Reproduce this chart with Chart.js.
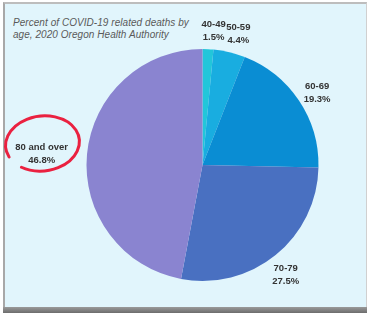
<!DOCTYPE html>
<html>
<head>
<meta charset="utf-8">
<script src="https://cdn.jsdelivr.net/npm/chart.js@4.4.0/dist/chart.umd.min.js"></script>
<style>
  html, body { margin:0; padding:0; background:#ffffff; }
  #wrap { position:relative; width:367px; height:313px; overflow:hidden; }
  #frame { position:absolute; left:3px; top:2px; width:361px; height:304px;
           background:#e1f5fc; border-left:2px solid #a8a8a8; border-top:2px solid #bdbdbd; border-right:1px solid #d0d0d0; }
  #shadow { position:absolute; left:3px; top:307px; width:364px; height:6px;
            background:linear-gradient(#9a9a9a,#6d6d6d); }
  #title { position:absolute; left:13px; top:17px; font:italic 10px "Liberation Sans", Arial, sans-serif;
           color:#5a5a5a; line-height:12px; letter-spacing:0.05px; }
  canvas { position:absolute; left:0; top:0; }
</style>
</head>
<body>
<div id="wrap">
  <div id="frame"></div>
  <div id="shadow"></div>
  <div id="title">Percent of COVID-19 related deaths by<br>age, 2020 Oregon Health Authority</div>
  <canvas id="c" width="367" height="313"></canvas>
</div>
<script>
const categories = ["40-49", "50-59", "60-69", "70-79", "80 and over"];
const percentValues = [1.5, 4.4, 19.3, 27.5, 46.8];
const valueLabels = ["1.5%", "4.4%", "19.3%", "27.5%", "46.8%"];
const sliceColors = ["#22c6da", "#19ade0", "#0a8dd3", "#4970c1", "#8a84d0"];

const labelPlace = { factor:[1.163, 1.17, 1.168, 1.19, 1.39], angleShift:[2, 1.9, 1.5, 2, -1.3] };

const labelPlugin = {
  id: 'sliceLabels',
  afterDatasetsDraw(chart) {
    const ctx = chart.ctx;
    const meta = chart.getDatasetMeta(0);
    ctx.save();
    ctx.font = 'bold 9.5px "Liberation Sans", Arial, sans-serif';
    ctx.fillStyle = '#333333';
    ctx.textAlign = 'center';
    ctx.textBaseline = 'middle';
    meta.data.forEach((arc, i) => {
      const p = arc.getProps(['x','y','startAngle','endAngle','outerRadius'], true);
      const mid = (p.startAngle + p.endAngle) / 2 + labelPlace.angleShift[i] * Math.PI / 180;
      const d = p.outerRadius * labelPlace.factor[i];
      const lx = p.x + Math.cos(mid) * d;
      const ly = p.y + Math.sin(mid) * d;
      ctx.fillText(categories[i], lx, ly - 6.5);
      ctx.fillText(valueLabels[i], lx, ly + 6.5);
    });
    // hand-drawn red circle around the largest slice label
    ctx.beginPath();
    ctx.strokeStyle = '#ea2140';
    ctx.lineWidth = 3;
    ctx.lineCap = 'round';
    const s = 160 * Math.PI / 180, e = (130 + 360) * Math.PI / 180;
    ctx.ellipse(42.5, 143.5, 37, 27.5, -0.12, s, e);
    ctx.stroke();
    ctx.restore();
  }
};

new Chart(document.getElementById('c'), {
  type: 'pie',
  data: {
    labels: categories,
    datasets: [{ data: percentValues, backgroundColor: sliceColors, borderWidth: 0 }]
  },
  options: {
    responsive: false,
    devicePixelRatio: 1,
    animation: false,
    layout: { padding: { left: 86.5, right: 48.5, top: 49, bottom: 32 } },
    plugins: { legend: { display: false }, tooltip: { enabled: false } }
  },
  plugins: [labelPlugin]
});
</script>
</body>
</html>
